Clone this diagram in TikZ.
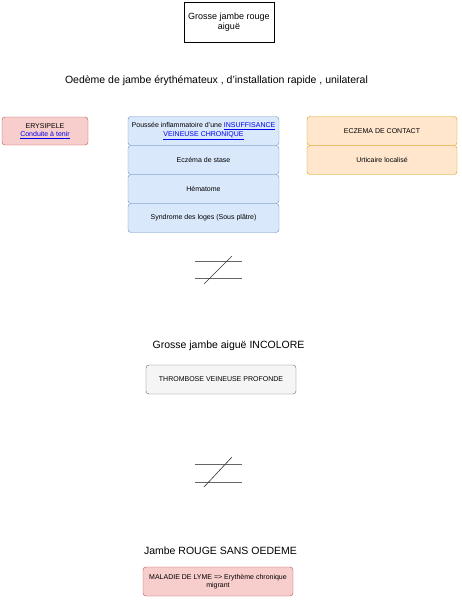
\documentclass[tikz,border=0pt]{standalone}
\usepackage{fontspec}
\setmainfont{Liberation Sans}
\usetikzlibrary{positioning}

\definecolor{redFill}{HTML}{F8CECC}
\definecolor{redLine}{HTML}{B85450}
\definecolor{blueFill}{HTML}{DAE8FC}
\definecolor{blueLine}{HTML}{6C8EBF}
\definecolor{orangeFill}{HTML}{FFE6CC}
\definecolor{orangeLine}{HTML}{D79B00}
\definecolor{greyFill}{HTML}{F5F5F5}
\definecolor{greyLine}{HTML}{666666}
\definecolor{linkBlue}{HTML}{0000EE}

\newcommand{\lien}[1]{\textcolor{linkBlue}{\underline{#1}}}

\begin{document}
\begin{tikzpicture}[
    x=1pt, y=-1pt,
    box/.style={%
      draw,
      rectangle,
      rounded corners=3pt,
      align=center,
      inner sep=1pt,
      minimum height=29pt,
      font=\fontsize{7}{8.5}\selectfont,
    },
    redbox/.style={box, fill=redFill, draw=redLine},
    bluebox/.style={box, fill=blueFill, draw=blueLine, minimum width=151pt},
    orangebox/.style={box, fill=orangeFill, draw=orangeLine, minimum width=150pt},
    greybox/.style={box, fill=greyFill, draw=greyLine, minimum width=150pt},
    titre/.style={font=\fontsize{10.5}{12}\selectfont},
    barre/.style={draw=black!60, line width=0.6pt},
  ]
    \useasboundingbox (0,0) rectangle (461,600);

    \node [draw, rectangle, minimum width=90pt, minimum height=40pt, align=center,
      font=\fontsize{9}{10}\selectfont] (top) at (229,22) {Grosse jambe rouge\\aiguë};

    \node [titre] (titreA) at (216.5,81) {Oedème de jambe érythémateux , d'installation rapide , unilateral};

    \node [redbox, minimum width=86pt, minimum height=28pt] (erysipele) at (45,131)
      {ERYSIPELE\\\lien{Conduite à tenir}};

    \node [bluebox] (poussee) at (203.5,131)
      {Poussée inflammatoire d'une \lien{INSUFFISANCE}\\\lien{VEINEUSE CHRONIQUE}};
    \node [bluebox] (stase) at (203.5,160) {Eczéma de stase};
    \node [bluebox] (hematome) at (203.5,189) {Hématome};
    \node [bluebox] (loges) at (203.5,218) {Syndrome des loges (Sous plâtre)};

    \node [orangebox] (contact) at (382,131) {ECZEMA DE CONTACT};
    \node [orangebox] (urticaire) at (382,160) {Urticaire localisé};

    % signe different
    \draw [barre] (195,261) -- (242,261);
    \draw [barre] (195,278) -- (242,278);
    \draw [line width=0.6pt, black!80] (204,284) -- (232,256);

    \node [titre] (titreB) at (228.5,346) {Grosse jambe aiguë INCOLORE};

    \node [greybox] (tvp) at (221,379.5) {THROMBOSE VEINEUSE PROFONDE};

    % signe different
    \draw [barre] (195,464) -- (242,464);
    \draw [barre] (195,482) -- (242,482);
    \draw [line width=0.6pt, black!80] (204,487) -- (232,457);

    \node [titre] (titreC) at (220.5,551) {Jambe ROUGE SANS OEDEME};

    \node [redbox, minimum width=150pt] (lyme) at (218,581.5)
      {MALADIE DE LYME => Erythème chronique\\migrant};
\end{tikzpicture}
\end{document}
